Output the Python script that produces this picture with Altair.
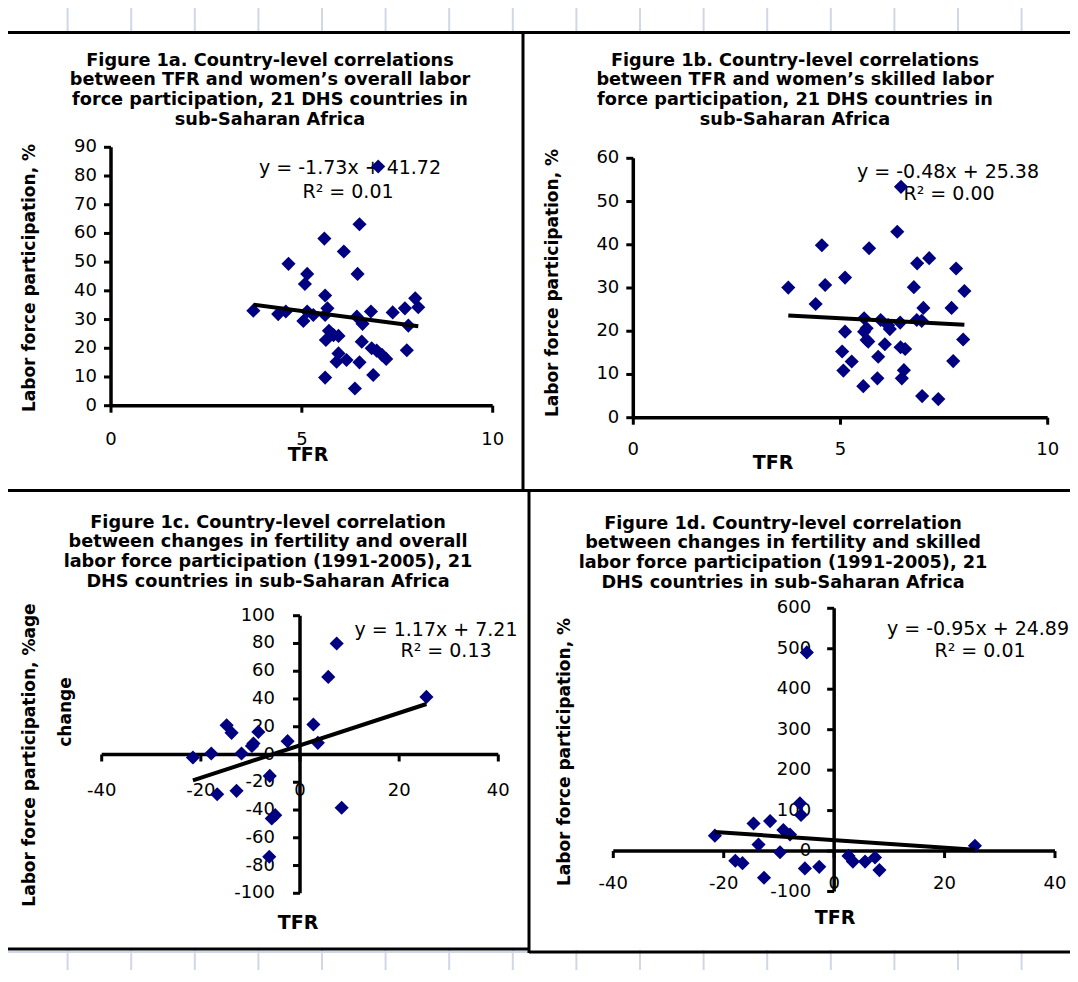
import altair as alt
import pandas as pd

# ---------------- data ----------------
# Figure 1a: TFR vs overall labor force participation (%)
a_tfr = [7.00, 6.51, 5.59, 6.10, 4.65, 5.14, 6.46, 5.08, 5.61, 7.97, 3.73, 4.38, 4.58, 5.14,
         5.04, 5.30, 5.67, 5.61, 6.81, 7.38, 7.70, 8.05, 6.44, 6.59, 7.79, 5.71, 5.83, 5.96,
         5.63, 6.57, 6.83, 6.96, 7.10, 7.21, 7.75, 5.96, 5.91, 6.17, 6.51, 5.61, 6.87, 6.39]
a_lfp = [83.3, 63.2, 58.2, 53.7, 49.4, 45.9, 45.9, 42.4, 38.4, 37.4, 33.1, 31.9, 32.8, 32.8,
         29.5, 31.6, 33.9, 31.6, 32.8, 32.5, 33.9, 34.3, 31.0, 28.5, 27.9, 26.1, 24.6, 24.3,
         22.9, 22.3, 20.0, 19.2, 17.7, 16.3, 19.3, 18.2, 15.3, 15.9, 15.1, 9.8, 10.7, 6.0]

# Figure 1b: TFR vs skilled labor force participation (%)
b_tfr = [6.46, 6.37, 4.55, 5.69, 7.14, 6.85, 7.79, 5.11, 3.74, 4.63, 6.77, 7.99, 4.40, 7.00,
         7.68, 5.57, 5.97, 6.44, 6.84, 6.96, 5.63, 6.15, 6.19, 5.11, 5.57, 5.63, 5.67, 7.96,
         6.07, 6.45, 6.56, 5.04, 5.27, 5.91, 7.72, 5.07, 6.53, 6.48, 5.89, 5.55, 6.97, 7.36]
b_lfp = [53.4, 43.0, 39.9, 39.2, 36.9, 35.7, 34.5, 32.4, 30.1, 30.7, 30.2, 29.3, 26.3, 25.4,
         25.4, 23.0, 22.6, 22.0, 22.6, 22.4, 20.7, 21.4, 20.5, 19.9, 19.9, 18.0, 17.6, 18.1,
         17.0, 16.3, 15.9, 15.3, 13.0, 14.1, 13.1, 10.9, 11.0, 9.1, 9.1, 7.3, 5.0, 4.3]

# Figure 1c: % change in TFR vs % change in overall labor force participation
c_dtfr = [7.4, 5.7, 25.5, 2.7, -14.8, -13.8, -8.4, -2.5, 3.6, -9.4, -9.7, -11.8, -17.9, -21.6,
          -6.1, -12.8, -16.7, 8.4, -5.0, -5.7, -6.2]
c_dlfp = [80.0, 55.9, 41.5, 21.6, 21.1, 15.6, 16.3, 9.6, 8.4, 7.9, 6.2, 0.7, 0.7, -2.2,
          -15.4, -26.2, -28.6, -38.4, -43.7, -46.1, -73.7]

# Figure 1d: % change in TFR vs % change in skilled labor force participation
d_dtfr = [-4.95, -6.2, -6.0, -11.6, -14.6, -9.2, -8.0, -21.6, -13.7, 25.5, -9.8, -17.9, -16.6,
          2.6, 3.4, 5.6, 7.4, -5.3, -2.7, 8.2, -12.7]
d_dlfp = [491, 118, 89, 74, 68, 52, 41, 38, 16, 13, -3, -24, -30, -12, -26, -26, -16, -43, -39,
          -47, -66]

# tick values
a_xticks = [0, 5, 10]
a_yticks = [0, 10, 20, 30, 40, 50, 60, 70, 80, 90]
b_xticks = [0, 5, 10]
b_yticks = [0, 10, 20, 30, 40, 50, 60]
c_xticks = [-40, -20, 0, 20, 40]
c_yticks = [-100, -80, -60, -40, -20, 0, 20, 40, 60, 80, 100]
d_xticks = [-40, -20, 0, 20, 40]
d_yticks = [-100, 0, 100, 200, 300, 400, 500, 600]

# texts
a_title = ["Figure 1a. Country-level correlations", "between TFR and women\u2019s overall labor",
           "force participation,  21 DHS countries in", "sub-Saharan Africa"]
b_title = ["Figure 1b. Country-level correlations", "between TFR and women\u2019s skilled labor",
           "force participation,  21 DHS countries in", "sub-Saharan Africa"]
c_title = ["Figure 1c. Country-level correlation", "between changes in fertility and overall",
           "labor force participation (1991-2005), 21", "DHS countries in sub-Saharan Africa"]
d_title = ["Figure 1d. Country-level correlation", "between changes in fertility and skilled",
           "labor force participation (1991-2005), 21", "DHS countries in sub-Saharan Africa"]
a_eq, a_r2 = "y = -1.73x + 41.72", "R\u00b2 = 0.01"
b_eq, b_r2 = "y = -0.48x + 25.38", "R\u00b2 = 0.00"
c_eq, c_r2 = "y = 1.17x + 7.21", "R\u00b2 = 0.13"
d_eq, d_r2 = "y = -0.95x + 24.89", "R\u00b2 = 0.01"
ytitle = "Labor force participation, %"
c_ytitle = ["Labor force participation, %age", "change"]
xtitle = "TFR"

grid_cols = list(range(17))

# ---------------- layout / style ----------------
FONT = "DejaVu Sans"
NAVY = "#000080"
GRID = "#d0d7e5"
W, H = 1062, 962
O = 8  # page margin: reference pixel -> chart pixel


def one():
    return alt.Data(values=[{}])


def vtext(txt, x, y, size, bold=False, angle=0, align="center", baseline="middle", lh=None):
    kw = dict(font=FONT, fontSize=size, fontWeight="bold" if bold else "normal",
              align=align, baseline=baseline, color="black")
    if angle:
        kw["angle"] = angle
    if lh:
        kw["lineHeight"] = lh
    return alt.Chart(one()).mark_text(**kw).encode(
        x=alt.value(x - O), y=alt.value(y - O), text=alt.value(txt))


def panel(xs, ys, xt, yt, lay, eq, r2):
    sx = alt.Scale(domain=lay["xdom"], range=[lay["xr"][0] - O, lay["xr"][1] - O], nice=False, zero=False)
    sy = alt.Scale(domain=lay["ydom"], range=[lay["yr"][0] - O, lay["yr"][1] - O], nice=False, zero=False)

    def X(f):
        return alt.X(f, type="quantitative", scale=sx, axis=None)

    def Y(f):
        return alt.Y(f, type="quantitative", scale=sy, axis=None)

    pts_df = pd.DataFrame({"x": xs, "y": ys})
    xt_df = pd.DataFrame({"v": xt, "z": [0] * len(xt), "lab": [str(v) for v in xt]})
    yt_df = pd.DataFrame({"v": yt, "z": [0] * len(yt), "lab": [str(v) for v in yt]})
    ax_df = pd.DataFrame({"x0": [xt[0]], "x1": [xt[-1]], "y0": [yt[0]], "y1": [yt[-1]], "z": [0]})

    xaxis = alt.Chart(ax_df).mark_rule(color="black", strokeWidth=3.5).encode(
        x=X("x0"), x2="x1", y=Y("z"))
    yaxis = alt.Chart(ax_df).mark_rule(color="black", strokeWidth=3.5).encode(
        x=X("z"), y=Y("y0"), y2="y1")
    xticks = alt.Chart(xt_df).mark_rule(color="black", strokeWidth=3, y2Offset=7).encode(
        x=X("v"), y=Y("z"), y2="z")
    yticks = alt.Chart(yt_df).mark_rule(color="black", strokeWidth=3, x2Offset=-7).encode(
        x=X("z"), x2="z", y=Y("v"))
    xlabels = alt.Chart(xt_df).mark_text(font=FONT, fontSize=18, dy=lay["xlab_dy"],
                                         align="center", baseline="middle", color="black").encode(
        x=X("v"), y=Y("z"), text="lab:N")
    ylabels = alt.Chart(yt_df).mark_text(font=FONT, fontSize=18, dx=lay["ylab_dx"],
                                         align="right", baseline="middle", color="black").encode(
        x=X("z"), y=Y("v"), text="lab:N")
    pts = alt.Chart(pts_df).mark_point(shape="diamond", filled=True, size=200, color=NAVY,
                                       opacity=1, strokeWidth=0).encode(x=X("x"), y=Y("y"))
    trend = alt.Chart(pts_df).transform_regression("x", "y").mark_line(
        color="black", strokeWidth=4).encode(x=X("x"), y=Y("y"))
    eqt = vtext(eq, lay["eq"][0], lay["eq"][1], 19)
    r2t = vtext(r2, lay["r2"][0], lay["r2"][1], 19)
    return alt.layer(xaxis, yaxis, xticks, yticks, xlabels, ylabels, eqt, r2t, pts, trend)


LAY = {
    "a": dict(xdom=[0, 10], ydom=[0, 90], xr=(111, 492.7), yr=(405.7, 147.3), xlab_dy=34, ylab_dx=-14,
              eq=(350, 168), r2=(348, 192)),
    "b": dict(xdom=[0, 10], ydom=[0, 60], xr=(633.3, 1047.7), yr=(417.7, 158.3), xlab_dy=32, ylab_dx=-14,
              eq=(948, 172), r2=(949, 194)),
    "c": dict(xdom=[-40, 40], ydom=[-100, 100], xr=(101.7, 498.3), yr=(893.3, 615.7), xlab_dy=36,
              ylab_dx=-25, eq=(436, 630), r2=(446, 651)),
    "d": dict(xdom=[-40, 40], ydom=[-100, 600], xr=(613.3, 1055), yr=(891.5, 608.3), xlab_dy=33,
              ylab_dx=-23, eq=(978, 629), r2=(980, 651)),
}

pa = panel(a_tfr, a_lfp, a_xticks, a_yticks, LAY["a"], a_eq, a_r2)
pb = panel(b_tfr, b_lfp, b_xticks, b_yticks, LAY["b"], b_eq, b_r2)
pc = panel(c_dtfr, c_dlfp, c_xticks, c_yticks, LAY["c"], c_eq, c_r2)
pd_ = panel(d_dtfr, d_dlfp, d_xticks, d_yticks, LAY["d"], d_eq, d_r2)

# spreadsheet grid
gs = alt.Scale(domain=[0, 16], range=[4 - O, 1021.6 - O], nice=False, zero=False)
gdf = pd.DataFrame({"col": grid_cols})
grid_top = alt.Chart(gdf).mark_rule(color=GRID, strokeWidth=2).encode(
    x=alt.X("col:Q", scale=gs, axis=None), y=alt.value(0), y2=alt.value(32 - O))
grid_bot = alt.Chart(gdf).mark_rule(color=GRID, strokeWidth=2).encode(
    x=alt.X("col:Q", scale=gs, axis=None), y=alt.value(950 - O), y2=alt.value(H))
grid_h = alt.Chart(one()).mark_rule(color=GRID, strokeWidth=2).encode(
    x=alt.value(0), x2=alt.value(529 - O), y=alt.value(952 - O))


def hline(x1, x2, y, w=3):
    return alt.Chart(one()).mark_rule(color="black", strokeWidth=w).encode(
        x=alt.value(x1 - O), x2=alt.value(x2 - O), y=alt.value(y - O))


def vline(x, y1, y2, w=3):
    return alt.Chart(one()).mark_rule(color="black", strokeWidth=w).encode(
        x=alt.value(x - O), y=alt.value(y1 - O), y2=alt.value(y2 - O))


borders = [
    hline(0, 1078, 32.5),
    vline(523, 32, 491),
    hline(0, 1078, 490.5),
    vline(529, 490, 953),
    hline(0, 529, 949),
    hline(529, 1078, 952),
]

TL = 19.7
titles = [
    vtext(a_title, 270, 59 - 7.5, 17.7, bold=True, baseline="top", lh=TL),
    vtext(b_title, 795, 59 - 7.5, 17.7, bold=True, baseline="top", lh=TL),
    vtext(c_title, 268, 521 - 7.5, 17.7, bold=True, baseline="top", lh=TL),
    vtext(d_title, 783, 522 - 7.5, 17.7, bold=True, baseline="top", lh=TL),
    vtext(ytitle, 30, 278, 17, bold=True, angle=270),
    vtext(ytitle, 553, 283, 17, bold=True, angle=270),
    vtext(c_ytitle[0], 30, 755, 17, bold=True, angle=270),
    vtext(c_ytitle[1], 66, 712, 17, bold=True, angle=270),
    vtext(ytitle, 565, 752, 17, bold=True, angle=270),
    vtext(xtitle, 308, 455, 19, bold=True),
    vtext(xtitle, 773, 463, 19, bold=True),
    vtext(xtitle, 298, 923, 19, bold=True),
    vtext(xtitle, 835, 918, 19, bold=True),
]

chart = alt.layer(
    grid_top, grid_bot, grid_h, *borders, *titles, pa, pb, pc, pd_
).resolve_scale(
    x="independent", y="independent"
).properties(
    width=W, height=H, autosize=alt.AutoSizeParams(type="none"), padding=0, background="white"
).configure_view(stroke=None)

chart.save("out.html", embed_options={"renderer": "svg", "actions": False})
